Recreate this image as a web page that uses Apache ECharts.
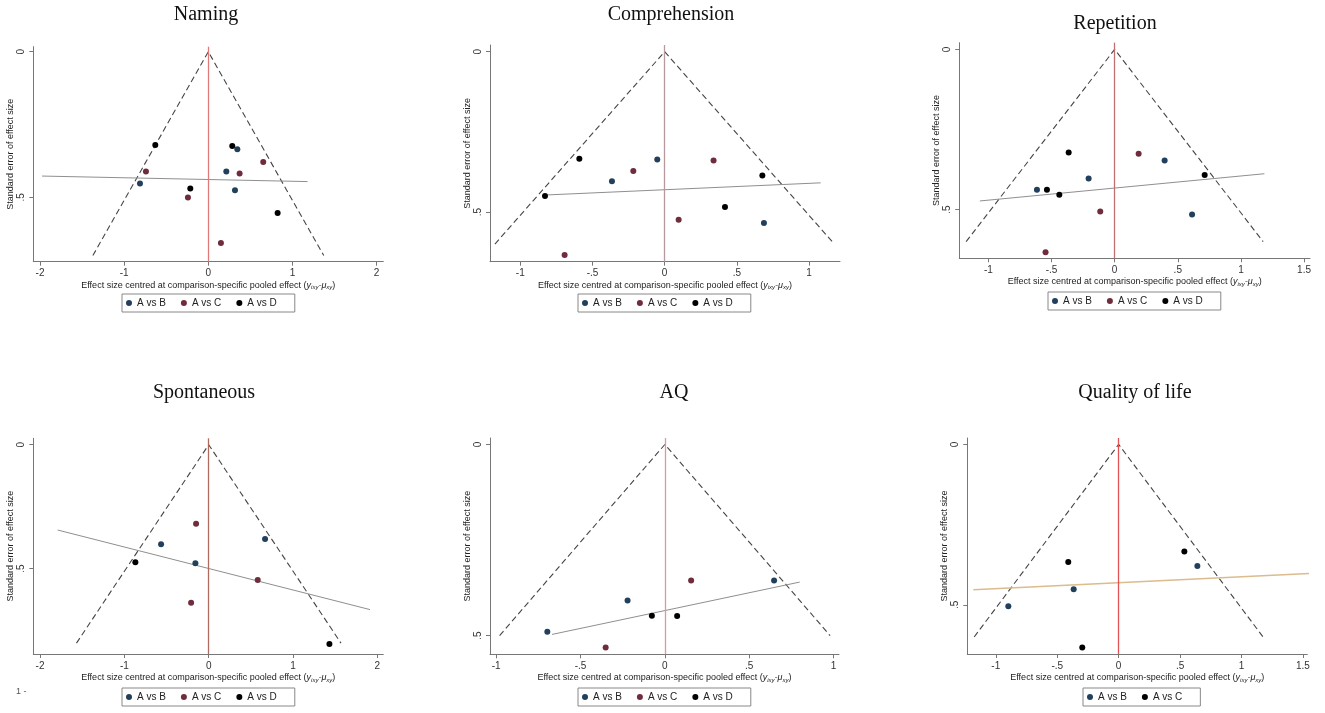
<!DOCTYPE html>
<html>
<head>
<meta charset="utf-8">
<script src="https://cdn.jsdelivr.net/npm/echarts@6/dist/echarts.min.js"></script>
<style>
  html, body { margin: 0; padding: 0; background: #fff; }
  #chart { width: 1325px; height: 713px; }
</style>
</head>
<body>
<div id="chart"></div>
<script>
// each point: [effect size centred, standard error]
const namingB = [[0.345, 0.335], [0.214, 0.411], [-0.812, 0.453], [0.317, 0.476]];
const namingC = [[0.653, 0.379], [-0.741, 0.411], [0.372, 0.418], [-0.242, 0.501], [0.150, 0.657]];
const namingD = [[-0.63, 0.320], [0.285, 0.324], [-0.214, 0.470], [0.824, 0.554]];
const namingFit = [[-1.976, 0.427], [1.18, 0.446]];

const compB = [[-0.051, 0.336], [-0.365, 0.404], [0.688, 0.534]];
const compC = [[0.339, 0.339], [-0.217, 0.372], [0.097, 0.524], [-0.693, 0.634]];
const compD = [[-0.591, 0.334], [0.677, 0.386], [-0.829, 0.450], [0.418, 0.484]];
const compFit = [[-0.829, 0.447], [1.081, 0.409]];

const repB = [[0.396, 0.347], [-0.206, 0.403], [-0.615, 0.438], [0.613, 0.515]];
const repC = [[0.190, 0.326], [-0.114, 0.506], [-0.547, 0.633]];
const repD = [[-0.364, 0.322], [0.713, 0.392], [-0.536, 0.438], [-0.438, 0.454]];
const repFit = [[-1.067, 0.473], [1.186, 0.388]];

const sponB = [[0.668, 0.380], [-0.565, 0.401], [-0.158, 0.478]];
const sponC = [[-0.150, 0.319], [0.581, 0.546], [-0.209, 0.637]];
const sponD = [[-0.870, 0.474], [1.431, 0.804]];
const sponFit = [[-1.79, 0.344], [1.913, 0.665]];

const aqB = [[0.648, 0.356], [-0.221, 0.408], [-0.697, 0.490]];
const aqC = [[0.156, 0.356], [-0.351, 0.531]];
const aqD = [[-0.077, 0.448], [0.073, 0.449]];
const aqFit = [[-0.669, 0.497], [0.80, 0.360]];

const qolB = [[0.641, 0.379], [-0.366, 0.451], [-0.898, 0.504]];
const qolC = [[0.535, 0.334], [-0.410, 0.366], [-0.296, 0.633]];
const qolFit = [[-1.183, 0.453], [1.558, 0.402]];

const titles = ['Naming', 'Comprehension', 'Repetition', 'Spontaneous', 'AQ', 'Quality of life'];
const xTicks = [
  [-2, -1, 0, 1, 2],
  [-1, -0.5, 0, 0.5, 1],
  [-1, -0.5, 0, 0.5, 1, 1.5],
  [-2, -1, 0, 1, 2],
  [-1, -0.5, 0, 0.5, 1],
  [-1, -0.5, 0, 0.5, 1, 1.5]
];
const yTicks = [0, 0.5];
const xRange = [[-2.08, 2.08], [-1.21, 1.215], [-1.23, 1.547], [-2.08, 2.07], [-1.037, 1.033], [-1.232, 1.536]];
const yRange = [[-0.017, 0.721], [-0.021, 0.655], [-0.021, 0.652], [-0.026, 0.844], [-0.017, 0.549], [-0.02, 0.653]];
// largest standard error of the pseudo 95% funnel
const funnelSE = [0.7, 0.6, 0.6, 0.8, 0.5, 0.6];

const groupNames = [['A vs B', 'A vs C', 'A vs D'], ['A vs B', 'A vs C', 'A vs D'], ['A vs B', 'A vs C', 'A vs D'],
  ['A vs B', 'A vs C', 'A vs D'], ['A vs B', 'A vs C', 'A vs D'], ['A vs B', 'A vs C']];
const groupData = [
  [namingB, namingC, namingD],
  [compB, compC, compD],
  [repB, repC, repD],
  [sponB, sponC, sponD],
  [aqB, aqC, aqD],
  [qolB, qolC]
];
const fits = [namingFit, compFit, repFit, sponFit, aqFit, qolFit];

// layout (px) and styling
const grids = [
  { left: 33.3, top: 46.7, width: 350, height: 215 },
  { left: 490, top: 45, width: 350, height: 216.7 },
  { left: 959.3, top: 42.7, width: 350.7, height: 215.6 },
  { left: 33.3, top: 438.3, width: 350, height: 215.7 },
  { left: 490, top: 438, width: 349, height: 216.3 },
  { left: 967.3, top: 438, width: 340, height: 216 }
];
const titlePos = [[206, 15], [671, 15], [1115, 24], [204, 393], [674, 393], [1135, 393]];
const legendPos = [[122, 294], [578, 294], [1048, 292], [122, 688], [578, 688], [1083, 688]];
const dotColors = [['#22405c', '#6e2c3c', '#000'], ['#22405c', '#6e2c3c', '#000'], ['#22405c', '#6e2c3c', '#000'],
  ['#22405c', '#6e2c3c', '#000'], ['#22405c', '#6e2c3c', '#000'], ['#22405c', '#000']];
const zeroColors = ['#e07a7a', '#b99a9c', '#c07070', '#b06a5e', '#d99a9a', '#e35252'];
const fitColors = ['#8f8f8f', '#8f8f8f', '#8f8f8f', '#8f8f8f', '#8f8f8f', '#dcbb8c'];

function fmt(v) {
  if (v === 0) return '0';
  return String(v).replace(/^0\./, '.').replace(/^-0\./, '-.');
}

let option = {
  animation: false,
  backgroundColor: '#fff',
  grid: [],
  xAxis: [],
  yAxis: [],
  legend: [],
  series: [],
  graphic: []
};

titles.forEach((t, i) => {
  option.grid.push(grids[i]);
  option.xAxis.push({
    type: 'value',
    gridIndex: i,
    min: xRange[i][0],
    max: xRange[i][1],
    splitLine: { show: false },
    axisLine: { onZero: false, lineStyle: { color: '#777', width: 1 } },
    axisTick: { length: 4, lineStyle: { color: '#777' }, customValues: xTicks[i] },
    axisLabel: { customValues: xTicks[i], formatter: fmt, fontSize: 10, color: '#333', margin: 7, fontFamily: 'Liberation Sans' },
    name: 'Effect size centred at comparison-specific pooled effect ({it|y}{sub|ixy}{it|-μ}{sub|xy})',
    nameLocation: 'middle',
    nameGap: 18,
    nameTextStyle: {
      fontSize: 9, color: '#222', fontFamily: 'Liberation Sans', lineHeight: 11,
      rich: {
        it: { fontSize: 9, fontStyle: 'italic', color: '#222', fontFamily: 'Liberation Sans', lineHeight: 11 },
        sub: { fontSize: 6, fontStyle: 'italic', color: '#222', fontFamily: 'Liberation Sans', verticalAlign: 'bottom', lineHeight: 11 }
      }
    }
  });
  option.yAxis.push({
    type: 'value',
    gridIndex: i,
    inverse: true,
    min: yRange[i][0],
    max: yRange[i][1],
    splitLine: { show: false },
    axisLine: { onZero: false, lineStyle: { color: '#777', width: 1 } },
    axisTick: { length: 4, lineStyle: { color: '#777' }, customValues: yTicks },
    axisLabel: { customValues: yTicks, formatter: fmt, rotate: 90, fontSize: 10, color: '#333', margin: 7, fontFamily: 'Liberation Sans' },
    name: 'Standard error of effect size',
    nameLocation: 'middle',
    nameGap: 17,
    nameTextStyle: { fontSize: 9, color: '#222', fontFamily: 'Liberation Sans' }
  });

  // pseudo 95% confidence funnel
  let s = funnelSE[i];
  option.series.push({
    type: 'line',
    xAxisIndex: i,
    yAxisIndex: i,
    data: [[-1.96 * s, s], [0, 0], [1.96 * s, s]],
    symbol: 'none',
    silent: true,
    lineStyle: { color: '#444', width: 1.1, type: [6, 3.5] },
    markLine: {
      silent: true,
      symbol: 'none',
      label: { show: false },
      lineStyle: { color: zeroColors[i], width: 1.3, type: 'solid' },
      data: [{ xAxis: 0 }]
    }
  });

  // fitted line
  option.series.push({
    type: 'line',
    xAxisIndex: i,
    yAxisIndex: i,
    data: fits[i],
    symbol: 'none',
    silent: true,
    lineStyle: { color: fitColors[i], width: i === 5 ? 1.6 : 1 }
  });

  groupNames[i].forEach((name, k) => {
    option.series.push({
      type: 'scatter',
      name: name,
      xAxisIndex: i,
      yAxisIndex: i,
      data: groupData[i][k],
      symbolSize: 6,
      z: 5,
      itemStyle: { color: dotColors[i][k], opacity: 1 }
    });
  });

  option.legend.push({
    left: legendPos[i][0],
    top: legendPos[i][1],
    orient: 'horizontal',
    selectedMode: false,
    icon: 'circle',
    itemWidth: 6,
    itemHeight: 6,
    itemGap: 15,
    padding: [4, 18, 4, 4],
    borderColor: '#888',
    borderWidth: 1,
    textStyle: { fontSize: 10, color: '#222', fontFamily: 'Liberation Sans' },
    data: groupNames[i].map((name, k) => ({ name: name, itemStyle: { color: dotColors[i][k], opacity: 1 } }))
  });

  option.graphic.push({
    type: 'text',
    x: titlePos[i][0],
    y: titlePos[i][1],
    style: {
      text: t,
      font: '20px "Liberation Serif"',
      fill: '#111',
      textAlign: 'center',
      textVerticalAlign: 'middle'
    }
  });
});

// stray "1" tick label left outside the Spontaneous panel
option.graphic.push({
  type: 'text',
  x: 16,
  y: 692,
  style: { text: '1 -', font: '9px "Liberation Sans"', fill: '#555', textVerticalAlign: 'middle' }
});

let chart = echarts.init(document.getElementById('chart'));
chart.setOption(option);
</script>
</body>
</html>
